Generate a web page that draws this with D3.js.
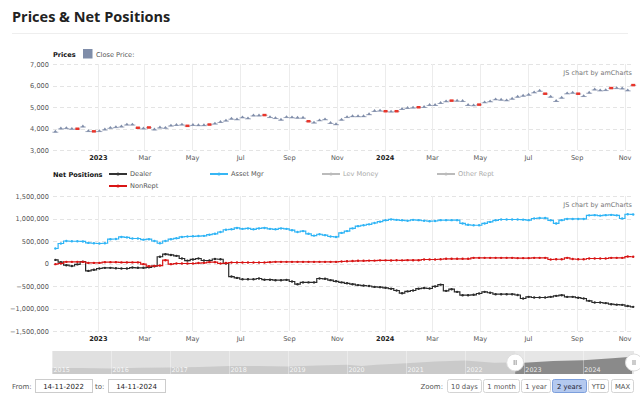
<!DOCTYPE html>
<html>
<head>
<meta charset="utf-8">
<script src="https://d3js.org/d3.v7.min.js"></script>
<style>
body { margin: 0; background: #fff; }
svg text { font-family: "DejaVu Sans", Verdana, sans-serif; }
</style>
</head>
<body>
<svg width="640" height="397"></svg>
<script>
// weekly COT report dates start here (Tuesdays)
var startDate = new Date(2022, 10, 8);
var rangeFrom = "14-11-2022", rangeTo = "14-11-2024";

var priceClose = [3864, 4015, 4030, 4000, 4000, 4106, 3894, 3879, 3894, 3970,
  4045, 4076, 4106, 4197, 4197, 4045, 4015, 4060, 3970, 4060,
  4045, 4150, 4180, 4197, 4136, 4180, 4167, 4167, 4197, 4242,
  4318, 4379, 4470, 4440, 4530, 4485, 4621, 4621, 4636, 4545,
  4500, 4424, 4545, 4530, 4515, 4515, 4348, 4288, 4394, 4440,
  4273, 4212, 4424, 4545, 4585, 4585, 4585, 4677, 4831, 4846,
  4815, 4800, 4815, 4923, 4970, 4985, 5000, 5015, 5108, 5108,
  5200, 5277, 5308, 5308, 5292, 5108, 5092, 5123, 5230, 5277,
  5370, 5354, 5323, 5400, 5492, 5538, 5585, 5692, 5769, 5630,
  5492, 5292, 5446, 5646, 5677, 5630, 5523, 5677, 5830, 5785,
  5800, 5892, 5892, 5877, 5785, 6030];
var downWeeks = [4, 7, 15, 17, 24, 28, 38, 46, 60, 62, 66, 72, 77, 89, 95, 101, 105];

// net positions, thousands of contracts
var dealer = [80, 30, -38, -55, -20, 40, -164, -140, -111, -97,
  -97, -105, -111, -111, -90, -95, -95, -85, -60, 150,
  207, 190, 170, 111, 65, 90, 111, 67, 67, 100,
  95, 0, -290, -320, -350, -350, -350, -333, -360, -360,
  -371, -371, -365, -400, -460, -420, -420, -420, -333, -340,
  -370, -395, -420, -440, -460, -480, -490, -500, -520, -525,
  -540, -560, -600, -660, -620, -600, -560, -545, -555, -510,
  -470, -608, -571, -630, -704, -704, -695, -667, -630, -650,
  -682, -682, -682, -682, -700, -778, -741, -756, -756, -756,
  -741, -719, -704, -741, -741, -760, -778, -830, -867, -867,
  -880, -904, -915, -919, -945, -963];
var assetMgr = [333, 444, 500, 495, 495, 490, 458, 450, 444, 450,
  540, 545, 590, 580, 556, 556, 530, 540, 500, 450,
  500, 540, 560, 590, 600, 605, 610, 615, 640, 660,
  700, 750, 760, 790, 770, 780, 760, 780, 790, 770,
  760, 780, 770, 740, 700, 720, 660, 620, 650, 630,
  600, 590, 680, 720, 780, 830, 850, 870, 900, 930,
  960, 980, 970, 960, 950, 970, 963, 950, 940, 945,
  963, 963, 963, 963, 890, 860, 850, 850, 890, 925,
  960, 978, 978, 978, 978, 975, 963, 1000, 1010, 1010,
  960, 890, 963, 990, 990, 990, 990, 1070, 1075, 1065,
  1075, 1080, 1070, 1000, 1095, 1090];
var nonRept = [-15, 0, 37, 37, 37, 37, 13, 13, 13, 30,
  30, 30, 25, 25, 25, 25, -15, -60, -55, -45,
  73, -15, 0, 0, 0, 0, 10, 15, 30, 30,
  0, 10, 22, 22, 22, 22, 22, 22, 22, 30,
  37, 37, 37, 37, 37, 37, 37, 37, 37, 37,
  37, 37, 45, 50, 55, 60, 60, 65, 65, 70,
  70, 68, 72, 70, 75, 73, 73, 89, 89, 89,
  95, 104, 104, 104, 104, 104, 126, 126, 126, 126,
  126, 126, 126, 126, 120, 120, 120, 126, 126, 126,
  89, 95, 95, 126, 100, 95, 95, 111, 111, 111,
  111, 126, 126, 126, 155, 150];

var priceTicks = [3000, 4000, 5000, 6000, 7000];
var netTicks = [-1500000, -1000000, -500000, 0, 500000, 1000000, 1500000];

// long history shown in the scrollbar
var scrollDates = ["2015-01", "2015-07", "2016-01", "2016-07", "2017-01", "2017-07", "2018-01", "2018-07",
  "2019-01", "2019-07", "2020-01", "2020-04", "2020-07", "2021-01", "2021-07", "2022-01", "2022-07",
  "2022-11", "2023-01", "2023-07", "2024-01", "2024-07", "2024-11"];
var scrollValues = [2050, 2100, 1950, 2150, 2280, 2450, 2800, 2800, 2600, 2980, 3250, 2800, 3200,
  3750, 4350, 4700, 3900, 4000, 3900, 4500, 4800, 5500, 6000];
var scrollYears = [2015, 2016, 2017, 2018, 2019, 2020, 2021, 2022, 2023, 2024];

var zoomButtons = ["10 days", "1 month", "1 year", "2 years", "YTD", "MAX"];

var weeks = priceClose.map(function(d, i) { return d3.timeDay.offset(startDate, i * 7); });

var svg = d3.select("svg");

var left = 53, right = 634;

var x = d3.scaleTime()
    .domain([new Date(2022, 10, 5), new Date(2024, 10, 13)])
    .range([left, right]);

var yPrice = d3.scaleLinear().domain([3000, 7000]).range([150, 64]);
var yNet = d3.scaleLinear().domain([-1500000, 1500000]).range([331, 196]);

var monthFmt = d3.timeFormat("%b"), yearFmt = d3.timeFormat("%Y");
var monthTicks = x.ticks(d3.timeMonth.every(2));

// title
svg.append("text")
    .attr("x", 12).attr("y", 22)
    .style("font-family", "'Open Sans', sans-serif")
    .attr("font-weight", 700)
    .attr("font-size", 14.5)
    .attr("fill", "#222")
    .text("Prices & Net Positions");

svg.append("line")
    .attr("x1", 12).attr("x2", 628)
    .attr("y1", 33.5).attr("y2", 33.5)
    .attr("stroke", "#eee");

function drawPanel(y, ticks, top, bottom) {
  var g = svg.append("g");

  // horizontal dashed grid
  g.selectAll(".hgrid")
    .data(ticks)
    .enter().append("line")
      .attr("x1", left).attr("x2", right)
      .attr("y1", function(d) { return Math.round(y(d)) + 0.5; })
      .attr("y2", function(d) { return Math.round(y(d)) + 0.5; })
      .attr("stroke", "#e4e4e4")
      .attr("stroke-dasharray", "4,3");

  // vertical grid
  g.selectAll(".vgrid")
    .data(monthTicks)
    .enter().append("line")
      .attr("x1", function(d) { return Math.round(x(d)) + 0.5; })
      .attr("x2", function(d) { return Math.round(x(d)) + 0.5; })
      .attr("y1", top).attr("y2", bottom)
      .attr("stroke", "#ececec");

  var ya = g.append("g")
      .attr("transform", "translate(" + (left - 1) + ",0)")
      .call(d3.axisLeft(y).tickValues(ticks).tickSize(0).tickPadding(3).tickFormat(d3.format(",")));
  ya.select(".domain").remove();
  ya.selectAll("text").attr("font-size", 6.6).attr("fill", "#555").style("font-family", null);

  var xa = g.append("g")
      .attr("transform", "translate(0," + bottom + ")")
      .call(d3.axisBottom(x).tickValues(monthTicks).tickSize(0).tickPadding(5)
        .tickFormat(function(d) { return d.getMonth() === 0 ? yearFmt(d) : monthFmt(d); }));
  xa.select(".domain").remove();
  xa.selectAll("text")
      .attr("font-size", 6.6)
      .attr("fill", function(d) { return d.getMonth() === 0 ? "#222" : "#555"; })
      .attr("font-weight", function(d) { return d.getMonth() === 0 ? 700 : 400; })
      .style("font-family", null);

  g.append("text")
      .attr("x", 632).attr("y", top + 11)
      .attr("text-anchor", "end")
      .attr("font-size", 6.5)
      .attr("fill", "#777")
      .text("JS chart by amCharts");
  return g;
}

drawPanel(yPrice, priceTicks, 64, 150);
drawPanel(yNet, netTicks, 196, 331);

// price legend
svg.append("text").attr("x", 53).attr("y", 56.5)
    .attr("font-size", 6.6).attr("font-weight", 700).attr("fill", "#111").text("Prices");
svg.append("rect").attr("x", 83).attr("y", 49).attr("width", 9.5).attr("height", 9.5).attr("fill", "#7f8da9");
svg.append("text").attr("x", 96).attr("y", 56.5)
    .attr("font-size", 6.6).attr("fill", "#555").text("Close Price:");

// price candles
var candles = svg.append("g")
  .selectAll("g")
  .data(priceClose)
  .enter().append("g")
    .attr("transform", function(d, i) { return "translate(" + x(weeks[i]) + "," + yPrice(d) + ")"; });

candles.each(function(d, i) {
  var c = d3.select(this);
  if (downWeeks.indexOf(i) >= 0) {
    c.append("line").attr("x1", -3).attr("x2", 3).attr("y1", 0.5).attr("y2", 0.5).attr("stroke", "#a8b0c4");
    c.append("rect").attr("x", -2).attr("y", -1).attr("width", 4).attr("height", 2.5).attr("fill", "#e8352a");
  } else {
    c.append("line").attr("x1", -3).attr("x2", 3).attr("y1", 0.8).attr("y2", 0.8).attr("stroke", "#a8b0c4");
    c.append("path").attr("d", "M-2,1L0,-1.6L2,1Z").attr("fill", "#7f8da9");
  }
});

// net positions legend
var legendItems = [
  {name: "Dealer", color: "#333", text: "#555", x: 109, y: 174},
  {name: "Asset Mgr", color: "#36b6f4", text: "#555", x: 210, y: 174},
  {name: "Lev Money", color: "#bbb", text: "#aaa", x: 322, y: 174},
  {name: "Other Rept", color: "#bbb", text: "#aaa", x: 437, y: 174},
  {name: "NonRept", color: "#d91515", text: "#555", x: 109, y: 186}
];
svg.append("text").attr("x", 53).attr("y", 176.5)
    .attr("font-size", 6.6).attr("font-weight", 700).attr("fill", "#111").text("Net Positions");
var legend = svg.append("g")
  .selectAll("g")
  .data(legendItems)
  .enter().append("g")
    .attr("transform", function(d) { return "translate(" + d.x + "," + d.y + ")"; });
legend.append("line").attr("x1", 0).attr("x2", 18).attr("stroke-width", 2)
    .attr("stroke", function(d) { return d.color; });
legend.append("circle").attr("cx", 9).attr("r", 1.6)
    .attr("fill", function(d) { return d.color; });
legend.append("text").attr("x", 21).attr("y", 2.4).attr("font-size", 6.6)
    .attr("fill", function(d) { return d.text; })
    .text(function(d) { return d.name; });

// net position series
var series = [
  {values: dealer, color: "#2b2b2b"},
  {values: assetMgr, color: "#2fb4f5"},
  {values: nonRept, color: "#d81414"}
];

var line = d3.line()
    .x(function(d, i) { return x(weeks[i]); })
    .y(function(d) { return yNet(d * 1000); })
    .curve(d3.curveStep);

series.forEach(function(s) {
  var g = svg.append("g");
  g.append("path")
      .datum(s.values)
      .attr("d", line)
      .attr("fill", "none")
      .attr("stroke", s.color)
      .attr("stroke-width", 1.2);
  g.selectAll("circle")
    .data(s.values)
    .enter().append("circle")
      .attr("cx", function(d, i) { return x(weeks[i]); })
      .attr("cy", function(d) { return yNet(d * 1000); })
      .attr("r", 1.2)
      .attr("fill", s.color);
});

// scrollbar
var parseMonth = d3.timeParse("%Y-%m");
var sx = d3.scaleTime().domain([new Date(2015, 0, 1), new Date(2024, 10, 13)]).range([52, 634]);
var sy = d3.scaleLinear().domain([0, 8000]).range([374, 351]);
var sTop = 351, sBottom = 374;

svg.append("rect").attr("x", 52).attr("y", sTop).attr("width", 582).attr("height", sBottom - sTop).attr("fill", "#e0e0e0");

var area = d3.area()
    .x(function(d, i) { return sx(parseMonth(scrollDates[i])); })
    .y0(sBottom)
    .y1(function(d) { return sy(d); });

svg.append("path").datum(scrollValues).attr("d", area).attr("fill", "#cacaca");

var selX = sx(startDate);
svg.append("clipPath").attr("id", "sel")
  .append("rect").attr("x", selX).attr("y", sTop).attr("width", 634 - selX).attr("height", sBottom - sTop);
svg.append("rect").attr("x", selX).attr("y", sTop).attr("width", 634 - selX).attr("height", sBottom - sTop).attr("fill", "#e6e6e6");
svg.append("path").datum(scrollValues).attr("d", area).attr("fill", "#8a8a8a").attr("clip-path", "url(#sel)");

svg.append("g").selectAll("line")
  .data(scrollYears)
  .enter().append("line")
    .attr("x1", function(d) { return Math.round(sx(new Date(d, 0, 1))) + 0.5; })
    .attr("x2", function(d) { return Math.round(sx(new Date(d, 0, 1))) + 0.5; })
    .attr("y1", sTop).attr("y2", sBottom)
    .attr("stroke", "#fff").attr("stroke-opacity", 0.35);

svg.append("g").selectAll("text")
  .data(scrollYears)
  .enter().append("text")
    .attr("x", function(d) { return sx(new Date(d, 0, 1)) + 1.5; })
    .attr("y", 371.5)
    .attr("font-size", 6.4)
    .attr("fill", "#fff")
    .attr("fill-opacity", 0.85)
    .text(function(d) { return d; });

[selX, 634].forEach(function(gx) {
  var grip = svg.append("g").attr("transform", "translate(" + gx + ",362.5)");
  grip.append("circle").attr("r", 8.5).attr("fill", "#fff").attr("stroke", "#ddd");
  grip.append("line").attr("x1", -1).attr("x2", -1).attr("y1", -2.5).attr("y2", 2.5).attr("stroke", "#999");
  grip.append("line").attr("x1", 1).attr("x2", 1).attr("y1", -2.5).attr("y2", 2.5).attr("stroke", "#999");
});

// period selector
svg.append("text").attr("x", 12).attr("y", 388.5).attr("font-size", 7).attr("fill", "#555").text("From:");
svg.append("text").attr("x", 95).attr("y", 388.5).attr("font-size", 7).attr("fill", "#555").text("to:");
[{x: 35, t: rangeFrom}, {x: 108, t: rangeTo}].forEach(function(b) {
  svg.append("rect").attr("x", b.x + 0.5).attr("y", 379.5).attr("width", 57).attr("height", 13)
      .attr("fill", "#fff").attr("stroke", "#ccc");
  svg.append("text").attr("x", b.x + 28.5).attr("y", 388.5).attr("text-anchor", "middle")
      .attr("font-size", 7).attr("fill", "#222").text(b.t);
});

svg.append("text").attr("x", 443).attr("y", 388.5).attr("text-anchor", "end")
    .attr("font-size", 7).attr("fill", "#555").text("Zoom:");

var btnX = [447, 483, 521, 552, 588, 611];
var btnW = [34, 36, 29, 34, 20, 22];
var btn = svg.append("g").selectAll("g")
  .data(zoomButtons)
  .enter().append("g")
    .attr("transform", function(d, i) { return "translate(" + btnX[i] + ",379)"; });
btn.append("rect")
    .attr("x", 0.5).attr("y", 0.5).attr("rx", 2)
    .attr("width", function(d, i) { return btnW[i]; })
    .attr("height", 13)
    .attr("fill", function(d) { return d === "2 years" ? "#b4c9ef" : "#fff"; })
    .attr("stroke", function(d) { return d === "2 years" ? "#7d9fdc" : "#d4d4d4"; });
btn.append("text")
    .attr("x", function(d, i) { return btnW[i] / 2 + 0.5; })
    .attr("y", 9.5)
    .attr("text-anchor", "middle")
    .attr("font-size", 6.8)
    .attr("fill", function(d) { return d === "2 years" ? "#223" : "#555"; })
    .text(function(d) { return d; });
</script>
</body>
</html>
